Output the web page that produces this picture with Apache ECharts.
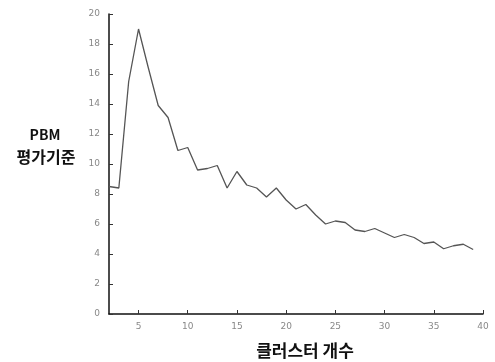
<!DOCTYPE html>
<html><head><meta charset="utf-8">
<script src="https://cdn.jsdelivr.net/npm/echarts@6/dist/echarts.min.js"></script>
<style>html,body{margin:0;padding:0;background:#fff}#c{width:495px;height:362px}</style>
</head><body><div id="c"></div>
<script>
const clusters = [2,3,4,5,6,7,8,9,10,11,12,13,14,15,16,17,18,19,20,21,22,23,24,25,26,27,28,29,30,31,32,33,34,35,36,37,38,39];
const pbm = [8.5,8.4,15.5,19.0,16.4,13.9,13.1,10.9,11.1,9.6,9.7,9.9,8.4,9.5,8.6,8.4,7.8,8.4,7.6,7.0,7.3,6.6,6.0,6.2,6.1,5.6,5.5,5.7,5.4,5.1,5.3,5.1,4.7,4.8,4.35,4.55,4.65,4.3];
const xTicks = [5,10,15,20,25,30,35,40];
const yTitle = ['PBM','평가기준'];
const xTitle = '클러스터 개수';

const chart = echarts.init(document.getElementById('c'));
chart.setOption({
  animation:false,
  grid:{left:109,right:12,top:14,bottom:48},
  xAxis:{type:'value',min:2,max:40,
    axisLine:{lineStyle:{color:'#111',width:1.5}},
    axisTick:{show:true,inside:true,length:4,customValues:xTicks,lineStyle:{color:'#333'}},
    axisLabel:{customValues:xTicks,color:'#888',fontSize:9,margin:8,fontFamily:'DejaVu Sans'},
    splitLine:{show:false}},
  yAxis:{type:'value',min:0,max:20,interval:2,
    axisLine:{show:true,lineStyle:{color:'#111',width:1.5}},
    axisTick:{show:true,inside:true,length:4,lineStyle:{color:'#333'}},
    axisLabel:{color:'#888',fontSize:9,margin:9,fontFamily:'DejaVu Sans'},
    splitLine:{show:false}},
  graphic:[
    {type:'text',x:45,y:135,style:{text:yTitle[0],fill:'#111',font:'bold 14px "Noto Sans CJK KR"',align:'center',verticalAlign:'middle'}},
    {type:'text',x:46,y:157,style:{text:yTitle[1],fill:'#111',font:'bold 16px "Noto Sans CJK KR"',align:'center',verticalAlign:'middle'}},
    {type:'text',x:305,y:351,style:{text:xTitle,fill:'#111',font:'bold 17px "Noto Sans CJK KR"',align:'center',verticalAlign:'middle'}}
  ],
  series:[{type:'line',data:clusters.map((c,i)=>[c,pbm[i]]),showSymbol:false,
    lineStyle:{color:'#555',width:1.3}}]
});
</script></body></html>
